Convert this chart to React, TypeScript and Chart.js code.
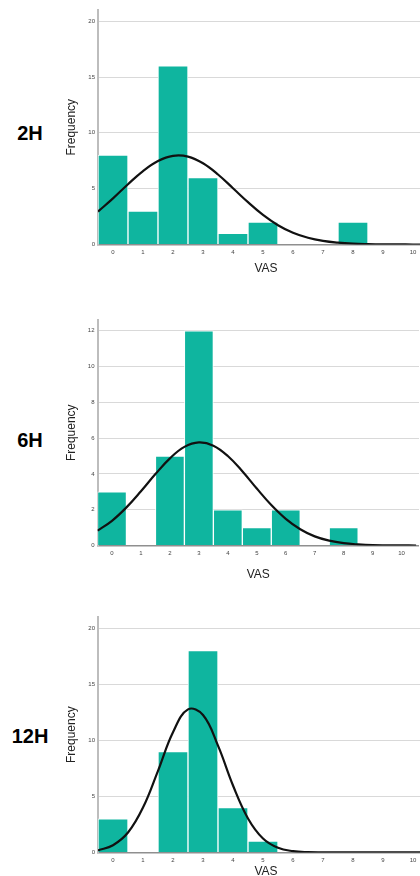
import React, { useEffect, useRef } from 'react';
import { Chart, registerables } from 'chart.js';

Chart.register(...registerables);

// ---- data ----
const vasValues = [0, 1, 2, 3, 4, 5, 6, 7, 8, 9, 10];
const freq2H = [8, 3, 16, 6, 1, 2, 0, 0, 2, 0, 0];
const freq6H = [3, 0, 5, 12, 2, 1, 2, 0, 1, 0, 0];
const freq12H = [3, 0, 9, 18, 4, 1, 0, 0, 0, 0, 0];

const curveX = [-0.5, 0, 0.5, 1, 1.5, 2, 2.5, 3, 3.5, 4, 4.5, 5, 5.5, 6, 6.5, 7, 7.5, 8, 8.5, 9, 9.5, 10, 10.5];
const curve2H = [2.95, 4.13, 5.4, 6.58, 7.48, 7.94, 7.87, 7.27, 6.27, 5.04, 3.79, 2.65, 1.73, 1.05, 0.6, 0.32, 0.16, 0.07, 0.03, 0.01, 0.005, 0.002, 0.001];
const curve6H = [0.83, 1.38, 2.13, 3.03, 3.99, 4.87, 5.51, 5.76, 5.58, 5.0, 4.15, 3.18, 2.26, 1.49, 0.91, 0.51, 0.27, 0.13, 0.06, 0.02, 0.009, 0.003, 0.001];
const curve12H = [0.18, 0.64, 1.77, 4.0, 7.28, 10.72, 12.76, 12.26, 9.52, 5.97, 3.03, 1.24, 0.41, 0.11, 0.02, 0.004, 0, 0, 0, 0, 0, 0, 0];

const yTicks2H = [0, 5, 10, 15, 20];
const yTicks6H = [0, 2, 4, 6, 8, 10, 12];
const yTicks12H = [0, 5, 10, 15, 20];

const panelLabels = ['2H', '6H', '12H'];
const xTitle = 'VAS';
const yTitle = 'Frequency';

// ---- layout / style ----
const FONT = '"Liberation Sans", Arial, Helvetica, sans-serif';
const BAR_COLOR = '#0fb59f';

type PanelCfg = {
  label: string;
  freq: number[];
  curve: number[];
  yTicks: number[];
  yMax: number;
  xMax: number;
  top: number;
  height: number;
  width: number;
  yAxisWidth: number;
  xAxisHeight: number;
  labelY: number;
};

const panels: PanelCfg[] = [
  { label: panelLabels[0], freq: freq2H, curve: curve2H, yTicks: yTicks2H, yMax: 21, xMax: 10.7, top: 0, height: 276, width: 374, yAxisWidth: 38, xAxisHeight: 31.5, labelY: 133 },
  { label: panelLabels[1], freq: freq6H, curve: curve6H, yTicks: yTicks6H, yMax: 12.6, xMax: 10.6, top: 310, height: 272, width: 359, yAxisWidth: 37.5, xAxisHeight: 36.5, labelY: 440 },
  { label: panelLabels[2], freq: freq12H, curve: curve12H, yTicks: yTicks12H, yMax: 21, xMax: 10.7, top: 607, height: 272, width: 374, yAxisWidth: 38, xAxisHeight: 26.6, labelY: 736 },
];

function Panel({ cfg }: { cfg: PanelCfg }) {
  const ref = useRef<HTMLCanvasElement | null>(null);
  useEffect(() => {
    if (!ref.current) return;
    const chart = new Chart(ref.current, {
      type: 'bar',
      data: {
        datasets: [
          {
            type: 'line',
            data: curveX.map((x, i) => ({ x, y: cfg.curve[i] })),
            borderColor: '#111111',
            borderWidth: 2.2,
            pointRadius: 0,
            tension: 0.4,
            fill: false,
            order: 0,
          } as any,
          {
            type: 'bar',
            data: vasValues.map((x, i) => ({ x, y: cfg.freq[i] })).filter((p) => p.y > 0),
            backgroundColor: BAR_COLOR,
            borderColor: 'rgba(255,255,255,0.9)',
            borderWidth: 1,
            borderSkipped: 'bottom',
            barPercentage: 1,
            categoryPercentage: 1,
            order: 1,
          } as any,
        ],
      },
      options: {
        responsive: false,
        animation: false,
        devicePixelRatio: 1,
        layout: { padding: { top: 10, left: 0, right: 0, bottom: 0 } },
        plugins: { legend: { display: false }, tooltip: { enabled: false } },
        scales: {
          x: {
            type: 'linear',
            min: -0.5,
            max: cfg.xMax,
            offset: false,
            grid: { display: false, drawTicks: false },
            border: { display: true, color: '#8f8f8f', width: 1.5 },
            ticks: { font: { size: 6, family: FONT }, color: '#444', padding: 4, maxRotation: 0, autoSkip: false },
            afterBuildTicks: (s: any) => {
              s.ticks = vasValues.map((v) => ({ value: v }));
            },
            afterFit: (s: any) => {
              s.height = cfg.xAxisHeight;
            },
            title: { display: true, text: xTitle, font: { size: 12, family: FONT }, color: '#222', padding: { top: 0, bottom: 0 } },
          },
          y: {
            type: 'linear',
            min: 0,
            max: cfg.yMax,
            grid: { color: '#d9d9d9', lineWidth: 1, drawTicks: false },
            border: { display: true, color: '#bdbdbd', width: 2 },
            ticks: { font: { size: 6, family: FONT }, color: '#444', padding: 3 },
            afterBuildTicks: (s: any) => {
              s.ticks = cfg.yTicks.map((v) => ({ value: v }));
            },
            afterFit: (s: any) => {
              s.width = cfg.yAxisWidth;
            },
            title: { display: true, text: yTitle, font: { size: 12, family: FONT }, color: '#222', padding: { top: 4, bottom: 0 } },
          },
        },
      } as any,
    });
    return () => chart.destroy();
  }, [cfg]);

  return (
    <>
      <canvas
        ref={ref}
        width={cfg.width}
        height={cfg.height}
        style={{ position: 'absolute', left: 60, top: cfg.top, width: cfg.width, height: cfg.height }}
      />
      <div
        style={{
          position: 'absolute',
          left: 30,
          top: cfg.labelY,
          transform: 'translate(-50%, -50%)',
          fontFamily: FONT,
          fontWeight: 'bold',
          fontSize: 20,
          color: '#000',
          whiteSpace: 'nowrap',
        }}
      >
        {cfg.label}
      </div>
    </>
  );
}

export default function App() {
  return (
    <div
      style={{
        position: 'absolute',
        left: 0,
        top: 0,
        width: 420,
        height: 876,
        overflow: 'hidden',
        background: '#ffffff',
      }}
    >
      {panels.map((p) => (
        <Panel key={p.label} cfg={p} />
      ))}
    </div>
  );
}
